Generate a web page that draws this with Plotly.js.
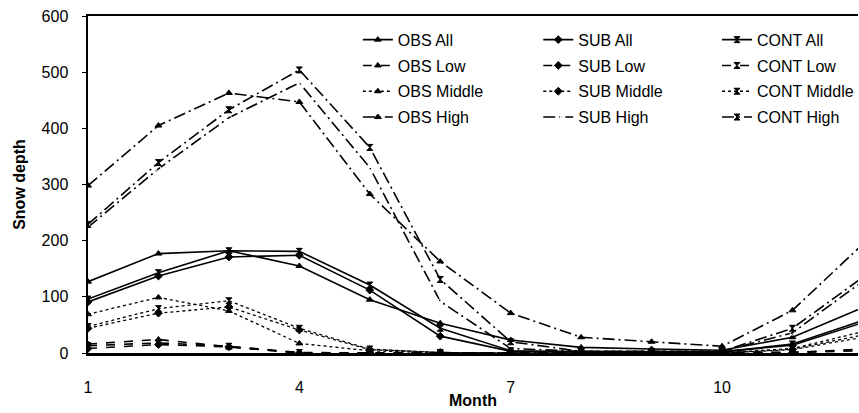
<!DOCTYPE html>
<html>
<head>
<meta charset="utf-8">
<script src="https://cdn.plot.ly/plotly-3.0.1.min.js"></script>
<style>html,body{margin:0;padding:0;overflow:hidden;background:#fff}</style>
</head>
<body>
<div id="chart" style="width:859px;height:413px"></div>
<script>
const months = [1,2,3,4,5,6,7,8,9,10,11,12];
const xTicks = [1,4,7,10];
const yTicks = [0,100,200,300,400,500,600];

const obsAll    = [127,177,182,155,95,53,23,10,7,5,28,81];
const subAll    = [91,137,171,174,112,30,3,2,2,2,14,54];
const contAll   = [96,143,182,181,121,44,4,2,2,2,16,58];
const obsLow    = [16,24,11,0,0,0,0,0,0,0,1,6];
const subLow    = [8,15,11,0,0,0,0,0,0,0,1,4];
const contLow   = [13,18,12,1,0,0,0,0,0,0,1,7];
const obsMiddle = [69,99,75,17,4,0,0,0,0,0,8,38];
const subMiddle = [44,71,82,41,6,1,0,0,0,0,6,28];
const contMiddle= [47,79,93,44,7,1,0,0,0,0,7,32];
const obsHigh   = [298,405,463,447,283,163,71,28,20,12,76,194];
const subHigh   = [224,328,419,481,330,92,8,3,3,3,36,128];
const contHigh  = [229,339,433,504,366,131,20,3,3,3,44,135];

const FONT = 'Liberation Sans, Arial, sans-serif';
const dashes = {All:'solid', Low:'dash', Middle:'dot', High:'12px,4px,2px,4px'};
const widths = {All:1.6, Low:1.6, Middle:1.3, High:1.6};

function tr(name, y, level, symbol, legend){
  return {
    x: months, y: y, name: name, type:'scatter', mode:'lines+markers',
    legend: legend, legendgroup: name,
    line:{color:'#000', width:widths[level], dash:dashes[level]},
    marker:{symbol:symbol, size:6, color:'#000', line:{color:'#000', width:1}}
  };
}

const data = [
  tr('OBS All', obsAll, 'All', 'triangle-up', 'legend'),
  tr('OBS Low', obsLow, 'Low', 'triangle-up', 'legend'),
  tr('OBS Middle', obsMiddle, 'Middle', 'triangle-up', 'legend'),
  tr('OBS High', obsHigh, 'High', 'triangle-up', 'legend'),
  tr('SUB All', subAll, 'All', 'diamond', 'legend2'),
  tr('SUB Low', subLow, 'Low', 'diamond', 'legend2'),
  tr('SUB Middle', subMiddle, 'Middle', 'diamond', 'legend2'),
  tr('SUB High', subHigh, 'High', 'circle-open', 'legend2'),
  tr('CONT All', contAll, 'All', 'hourglass', 'legend3'),
  tr('CONT Low', contLow, 'Low', 'hourglass', 'legend3'),
  tr('CONT Middle', contMiddle, 'Middle', 'hourglass', 'legend3'),
  tr('CONT High', contHigh, 'High', 'hourglass', 'legend3')
];
data[7].marker.size = 5;
data[7].marker.color = '#fff';

function leg(x){
  return {x:x, y:0.98, xanchor:'left', yanchor:'top', bgcolor:'rgba(0,0,0,0)',
    font:{family:FONT, size:16, color:'#000'}, tracegroupgap:2, itemwidth:30};
}

const layout = {
  width:859, height:413,
  margin:{l:88, r:0, t:16, b:60},
  paper_bgcolor:'#fff', plot_bgcolor:'#fff',
  font:{family:FONT, size:16, color:'#000'},
  showlegend:true,
  legend: leg(0.35), legend2: leg(0.584), legend3: leg(0.817),
  xaxis:{
    range:[1, 11.93], tickvals:xTicks, ticktext:xTicks.map(String),
    automargin:false,
    showgrid:false, zeroline:false, showline:true, linecolor:'#000', linewidth:2.5,
    mirror:true, ticks:'outside', ticklen:16, tickcolor:'rgba(0,0,0,0)', ticklabelstandoff:2,
    tickfont:{family:FONT, size:16},
    title:{text:'<b>Month</b>', font:{family:FONT, size:16}, standoff:0}
  },
  yaxis:{
    range:[0,600], tickvals:yTicks, ticktext:yTicks.map(String),
    automargin:false,
    showgrid:false, zeroline:false, showline:true, linecolor:'#000', linewidth:2.5,
    ticks:'outside', ticklen:4, tickcolor:'#000', ticklabelstandoff:10,
    tickfont:{family:FONT, size:16},
    title:{text:'<b>Snow depth</b>', font:{family:FONT, size:16}, standoff:12}
  }
};

Plotly.newPlot('chart', data, layout, {displayModeBar:false, staticPlot:true});
</script>
</body>
</html>
